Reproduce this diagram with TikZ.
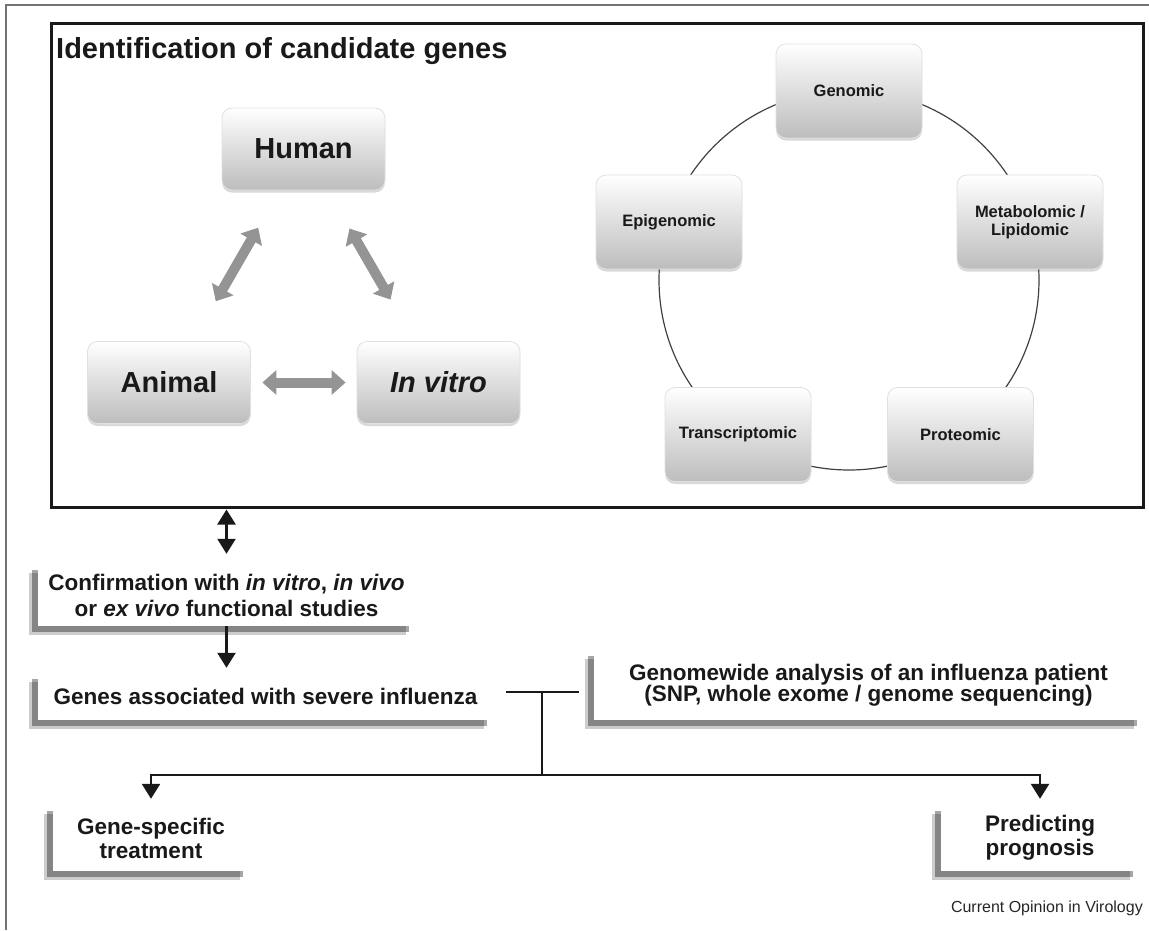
\documentclass[tikz,border=0pt]{standalone}
\usepackage{fontspec}
\setmainfont{Liberation Sans}
\usepackage{tikz}
\usetikzlibrary{calc}
\usetikzlibrary{arrows.meta}
\usetikzlibrary{shadows}
\tikzset{>={Triangle[width=18pt,length=15pt]}}
\tikzstyle{gloss} = [rectangle, rounded corners=10pt, top color=white, bottom color=black!26, draw=black!12, line width=0.8pt, drop shadow={shadow xshift=0pt, shadow yshift=-2.5pt, opacity=0.3}, text=black!90, inner sep=0]
\tikzstyle{duo} = [gloss, minimum width=163pt, minimum height=82pt, font=\fontsize{29}{32}\selectfont\bfseries]
\tikzstyle{omic} = [gloss, minimum width=146pt, minimum height=94pt, align=center, font=\fontsize{16.5}{18}\selectfont\bfseries]
\tikzstyle{flat} = [rectangle, fill=white, inner sep=0, align=center, text=black!90, font=\fontsize{22.5}{26}\selectfont\bfseries, drop shadow={shadow xshift=-9pt, shadow yshift=-9pt, opacity=0.2, fill=black}, drop shadow={shadow xshift=-6pt, shadow yshift=-6pt, opacity=0.35, fill=black}]
\tikzstyle{link} = [line width=2.5pt, draw=black!90]
\tikzstyle{fat} = [line width=10pt, draw=black!42, {Triangle[width=24pt,length=14pt]}-{Triangle[width=24pt,length=14pt]}]
\tikzstyle{ring} = [line width=1.2pt, draw=black!75]

\begin{document}
\begin{tikzpicture}[x=1pt, y=-1pt]
\useasboundingbox (0,0) rectangle (1149,930);
\draw [line width=1.5pt, draw=black!55] (1149,5) -- (6,5) -- (6,930);

\node [draw=black!90, line width=3pt, minimum width=1092pt, minimum height=484pt, inner sep=0] (ident) at (597,265) {};
\node [anchor=base west, inner sep=0, text=black!90, font=\fontsize{29}{32}\selectfont\bfseries] (head) at (56,58) {Identification of candidate genes};

% human / animal / in vitro
\node [duo] (human) at (303.5,149) {Human};
\node [duo] (animal) at (169,382.5) {Animal};
\node [duo] (invitro) at (438.5,382.5) {\textit{In vitro}};
\draw [fat, shorten <=43pt, shorten >=46pt] (human) to (animal);
\draw [fat, shorten <=44pt, shorten >=48pt] (human) to (invitro);
\draw [fat, shorten <=11.5pt, shorten >=11pt] (animal) to (invitro);

% omics ring
\coordinate (hub) at (849,280);
\draw [ring] (hub) circle (190);
\node [omic] (genomic) at (849,91) {Genomic};
\node [omic] (metab) at (1030,222) {Metabolomic /\\Lipidomic};
\node [omic] (prot) at (960.5,434.5) {Proteomic};
\node [omic] (trans) at (738,434.5) {Transcriptomic};
\node [omic] (epi) at (669,222) {Epigenomic};

% lower flow
\node [flat, minimum width=377pt, minimum height=62pt] (confirm) at (226.5,595) {Confirmation with \textit{in vitro}, \textit{in vivo}\\or \textit{ex vivo} functional studies};
\node [flat, minimum width=455pt, minimum height=47pt] (genes) at (265.5,696.5) {Genes associated with severe influenza};
\node [flat, minimum width=549pt, minimum height=70pt, font=\fontsize{22.5}{21}\selectfont\bfseries] (genome) at (868.5,685) {Genomewide analysis of an influenza patient\\(SNP, whole exome / genome sequencing)};
\node [flat, minimum width=196pt, minimum height=66pt, font=\fontsize{22.5}{24}\selectfont\bfseries] (gst) at (151,838) {Gene-specific\\treatment};
\node [flat, minimum width=198pt, minimum height=66pt, font=\fontsize{22.5}{24}\selectfont\bfseries] (prog) at (1040,838) {Predicting\\prognosis};
\node [anchor=base east, inner sep=0, text=black!85, font=\fontsize{16}{18}\selectfont] (src) at (1143,912) {Current Opinion in Virology};

\draw [link, <->, shorten <=1pt, shorten >=10pt] (ident.south -| confirm.north) to (confirm.north);
\draw [link, ->, shorten >=5pt] (confirm.south) to (confirm.south |- genes.north);
\coordinate (tee) at (542,692);
\coordinate (fork) at (542,775);
\draw [link, shorten <=13pt, shorten >=15pt] (genes.east |- tee) to (genome.west |- tee);
\draw [link] (tee) to (fork);
\draw [link, ->, shorten >=6pt] (fork) -| (gst.north);
\draw [link, ->, shorten >=6pt] (fork) -| (prog.north);
\end{tikzpicture}
\end{document}
